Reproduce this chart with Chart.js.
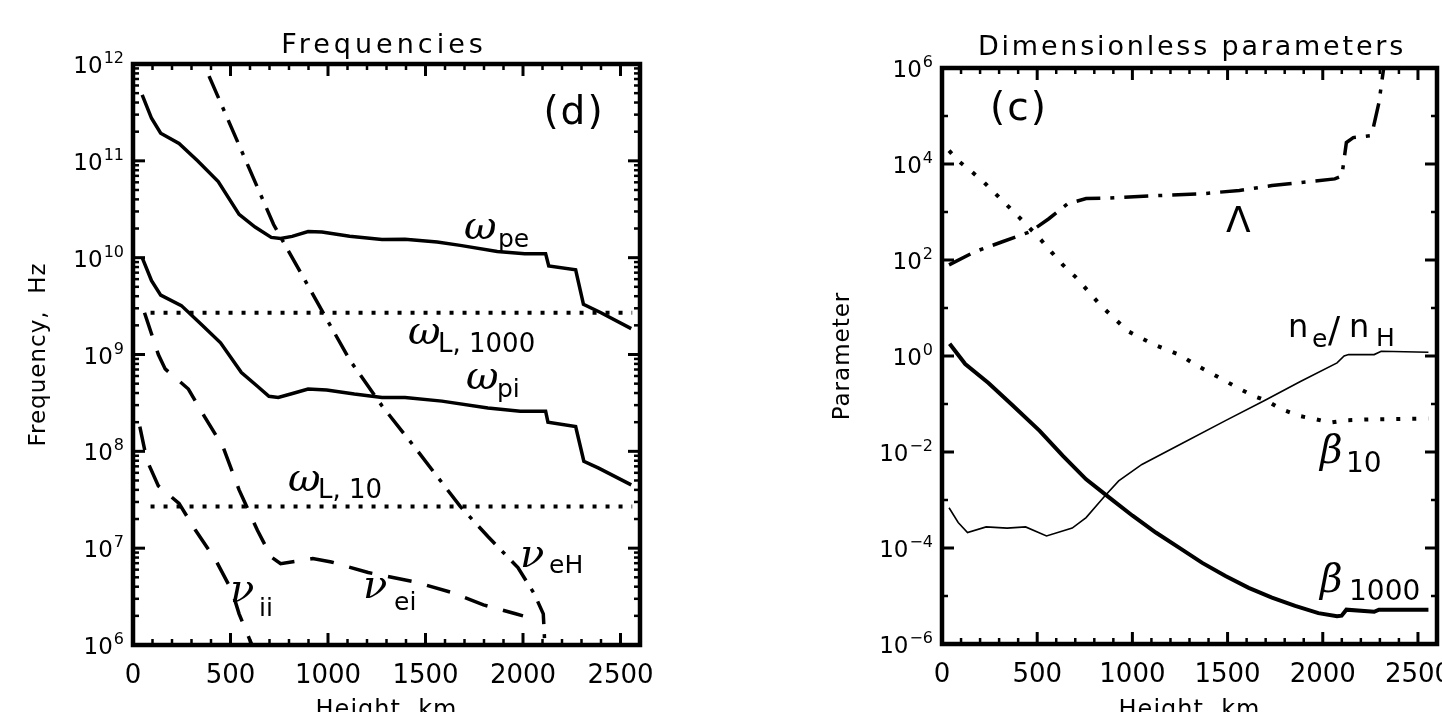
<!DOCTYPE html>
<html>
<head>
<meta charset="utf-8">
<script src="https://cdn.jsdelivr.net/npm/chart.js@4/dist/chart.umd.min.js"></script>
<style>
  body { margin: 0; background: #fff; }
  canvas { position: absolute; top: 0; }
</style>
</head>
<body>
<canvas id="freq" width="721" height="712" style="left:0"></canvas>
<canvas id="params" width="721" height="712" style="left:721px"></canvas>
<script>
// ---- values (height in km) ----
const xTickValues = [0, 500, 1000, 1500, 2000, 2500];
const freqExponents = [6, 7, 8, 9, 10, 11, 12];
const paramExponents = [-6, -4, -2, 0, 2, 4, 6];

// Frequencies panel (Hz)
const hPe = [47, 95, 142, 236, 331, 437, 544, 626, 709, 757, 816, 898, 969, 1111, 1277, 1395, 1560, 1678, 1868, 2009, 2116, 2132, 2270, 2310, 2400, 2555];
const omegaPe = [4.8e11, 2.75e11, 1.93e11, 1.51e11, 1.0e11, 6.1e10, 2.8e10, 2.07e10, 1.62e10, 1.58e10, 1.66e10, 1.86e10, 1.84e10, 1.66e10, 1.54e10, 1.55e10, 1.45e10, 1.34e10, 1.16e10, 1.10e10, 1.10e10, 8.2e9, 7.5e9, 3.3e9, 2.7e9, 1.85e9];
const hPi = [47, 95, 142, 248, 355, 449, 556, 638, 697, 745, 827, 898, 993, 1135, 1277, 1395, 1584, 1820, 1986, 2116, 2128, 2270, 2312, 2388, 2555];
const omegaPi = [1.0e10, 5.8e9, 4.1e9, 3.2e9, 2.0e9, 1.32e9, 6.5e8, 4.7e8, 3.7e8, 3.6e8, 4.0e8, 4.4e8, 4.3e8, 3.9e8, 3.6e8, 3.6e8, 3.3e8, 2.8e8, 2.6e8, 2.6e8, 2.0e8, 1.8e8, 7.9e7, 6.7e7, 4.5e7];
const hL = [90, 2560];
const omegaL1000 = [2.7e9, 2.7e9];
const omegaL10 = [2.7e7, 2.7e7];
const hEH = [390, 721, 1111, 1277, 1442, 1678, 1820, 1974, 2057, 2104, 2112];
const nuEH = [7.5e11, 2.2e10, 8.8e8, 2.95e8, 1.12e8, 2.7e7, 1.32e7, 6.3e6, 3.4e6, 2.1e6, 1.0e6];
const hEI = [59, 130, 165, 284, 366, 461, 544, 638, 709, 757, 922, 1017, 1206, 1442, 1631, 1797, 1962, 2000];
const nuEI = [2.7e9, 1.0e9, 7.1e8, 4.4e8, 2.3e8, 1.12e8, 4.0e7, 1.53e7, 8.1e6, 6.9e6, 7.8e6, 7.2e6, 5.6e6, 4.5e6, 3.5e6, 2.6e6, 2.1e6, 2.0e6];
const hII = [35, 71, 130, 236, 319, 426, 508, 544, 610];
const nuII = [1.8e8, 8.1e7, 4.4e7, 2.9e7, 1.55e7, 7.4e6, 3.6e6, 2.1e6, 1.0e6];

// Dimensionless parameters panel
const hLam = [37, 171, 317, 464, 561, 659, 757, 879, 1123, 1367, 1562, 1733, 2063, 2100, 2124, 2160, 2250, 2265, 2295, 2320];
const lambdaP = [79, 148, 240, 389, 724, 1480, 1905, 1950, 2190, 2400, 2820, 3550, 4900, 5600, 28000, 35500, 39000, 56000, 190000, 1e6];
const hB10 = [37, 85, 159, 220, 281, 342, 403, 513, 574, 635, 708, 769, 830, 903, 976, 1111, 1245, 1343, 1477, 1550, 1636, 1709, 1782, 1880, 1965, 2038, 2124, 2270, 2555];
const beta10 = [19000, 11700, 6760, 4170, 2400, 1380, 794, 282, 148, 79, 42, 22, 11.7, 6.2, 3.3, 1.74, 1.07, 0.62, 0.32, 0.22, 0.148, 0.115, 0.078, 0.056, 0.048, 0.041, 0.046, 0.048, 0.050];
const hB1000 = [40, 122, 244, 366, 513, 635, 757, 879, 1001, 1123, 1245, 1367, 1489, 1611, 1733, 1855, 1977, 2075, 2099, 2124, 2270, 2295, 2555];
const beta1000 = [1.8, 0.68, 0.275, 0.098, 0.0275, 0.0083, 0.0027, 0.00112, 4.7e-4, 2.1e-4, 1.02e-4, 4.9e-5, 2.6e-5, 1.48e-5, 9.3e-6, 6.2e-6, 4.4e-6, 3.8e-6, 3.9e-6, 5.2e-6, 4.7e-6, 5.2e-6, 5.2e-6];
const hNe = [37, 85, 134, 232, 342, 439, 549, 684, 757, 854, 928, 1050, 1245, 1489, 1697, 1880, 2075, 2112, 2136, 2270, 2307, 2555];
const neNh = [6.9e-4, 3.4e-4, 2.1e-4, 2.75e-4, 2.6e-4, 2.75e-4, 1.78e-4, 2.6e-4, 4.3e-4, 1.2e-3, 2.5e-3, 5.5e-3, 0.014, 0.045, 0.12, 0.29, 0.72, 1.0, 1.07, 1.07, 1.26, 1.2];

// ---- line styles ----
const SOLID = { borderWidth: 3.5 };
const THIN = { borderWidth: 1.6 };
const DOTTED = { borderWidth: 4, borderDash: [4, 9] };
const DOTTED_WIDE = { borderWidth: 4, borderDash: [4, 12] };
const DASHED = { borderWidth: 3.5, borderDash: [24, 16] };
const DASHDOT = { borderWidth: 3.5, borderDash: [24, 10, 4, 10] };

function series(xs, ys, style) {
  return Object.assign({
    data: xs.map((x, i) => ({ x: x, y: ys[i] })),
    borderColor: "#000",
    pointRadius: 0,
    fill: false,
    tension: 0,
  }, style);
}

const SANS = '"DejaVu Sans", sans-serif';
const GREEK = 'italic 40px "DejaVu Serif", serif';

function text(ctx, s, x, y, font, align, spacing) {
  ctx.font = font;
  ctx.textAlign = align || "left";
  ctx.textBaseline = "alphabetic";
  ctx.letterSpacing = (spacing || 0) + "px";
  ctx.fillText(s, x, y);
  ctx.letterSpacing = "0px";
}

// frame, inward ticks, tick labels, titles and curve labels
const framePlugin = {
  id: "frame",
  afterDraw(chart, args, opts) {
    const ctx = chart.ctx;
    const a = chart.chartArea;
    const xs = chart.scales.x;
    const ys = chart.scales.y;
    ctx.save();
    ctx.strokeStyle = "#000";
    ctx.fillStyle = "#000";
    ctx.lineCap = "butt";

    function seg(x1, y1, x2, y2, w) {
      ctx.lineWidth = w;
      ctx.beginPath();
      ctx.moveTo(x1, y1);
      ctx.lineTo(x2, y2);
      ctx.stroke();
    }

    // x ticks top and bottom
    for (let v = 100; v < 2600; v += 100) {
      const px = xs.getPixelForValue(v);
      const major = v % 500 === 0;
      const len = major ? 12 : 6;
      const w = major ? 3 : 2.5;
      seg(px, a.bottom, px, a.bottom - len, w);
      seg(px, a.top, px, a.top + len, w);
    }
    // y ticks left and right
    opts.yTicks.forEach(function (t) {
      const py = ys.getPixelForValue(t.v);
      const len = t.major ? 12 : 6;
      const w = t.major ? 3 : 2.5;
      seg(a.left, py, a.left + len, py, w);
      seg(a.right, py, a.right - len, py, w);
    });

    // box
    ctx.lineWidth = 4.5;
    ctx.strokeRect(a.left, a.top, a.right - a.left, a.bottom - a.top);

    // x tick labels
    xTickValues.forEach(function (v) {
      text(ctx, String(v), xs.getPixelForValue(v), a.bottom + 38, "26px " + SANS, "center");
    });
    // y tick labels 10^n
    opts.exponents.forEach(function (e) {
      const py = ys.getPixelForValue(Math.pow(10, e));
      const sup = e < 0 ? "\u2212" + (-e) : String(e);
      ctx.font = "16px " + SANS;
      const sw = ctx.measureText(sup).width;
      const right = a.left - 9;
      text(ctx, sup, right, py - 1, "16px " + SANS, "right");
      text(ctx, "10", right - sw - 1, py + 9, "23px " + SANS, "right");
    });

    // titles
    text(ctx, opts.title, opts.titleX, opts.titleY, "27px " + SANS, "center", opts.titleSpacing);
    text(ctx, "Height, km", (a.left + a.right) / 2, 717, "24px " + SANS, "center", 1);
    ctx.save();
    ctx.translate(opts.yTitleX, (a.top + a.bottom) / 2);
    ctx.rotate(-Math.PI / 2);
    text(ctx, opts.yTitle, 0, 0, "23px " + SANS, "center", 1);
    ctx.restore();

    // panel tag
    text(ctx, opts.tag[0], opts.tag[1], opts.tag[2], "39px " + SANS, "center", 2);

    // curve labels
    opts.labels.forEach(function (l) {
      text(ctx, l.main, l.x, l.y, l.font || GREEK, "left");
      if (l.sub) text(ctx, l.sub, l.sx, l.sy, (l.subSize || 25) + "px " + SANS, "left");
    });
    ctx.restore();
  },
};

function logTicks(lo, hi, minors) {
  const out = [];
  for (let e = lo; e <= hi; e++) {
    out.push({ v: Math.pow(10, e), major: true });
    if (e < hi) minors.forEach(function (m) { out.push({ v: m * Math.pow(10, e), major: false }); });
  }
  return out;
}

function paramTicks() {
  const out = [];
  for (let e = -6; e <= 6; e++) out.push({ v: Math.pow(10, e), major: e % 2 === 0 });
  return out;
}

function baseOptions(yMin, yMax, padding, frame) {
  return {
    responsive: false,
    animation: false,
    events: [],
    layout: { padding: padding },
    scales: {
      x: { type: "linear", min: 0, max: 2600, display: false },
      y: { type: "logarithmic", min: yMin, max: yMax, display: false },
    },
    plugins: {
      legend: { display: false },
      tooltip: { enabled: false },
      frame: frame,
    },
  };
}

new Chart(document.getElementById("freq").getContext("2d"), {
  type: "line",
  data: {
    datasets: [
      series(hPe, omegaPe, SOLID),
      series(hPi, omegaPi, SOLID),
      series(hL, omegaL1000, DOTTED),
      series(hL, omegaL10, DOTTED),
      series(hEH, nuEH, DASHDOT),
      series(hEI, nuEI, DASHED),
      series(hII, nuII, DASHED),
    ],
  },
  options: baseOptions(1e6, 1e12, { left: 133, right: 81, top: 64, bottom: 67 }, {
    yTicks: logTicks(6, 12, [2, 3, 4, 5, 6, 7, 8, 9]),
    exponents: freqExponents,
    title: "Frequencies",
    titleX: 384,
    titleY: 53,
    titleSpacing: 4,
    yTitle: "Frequency,  Hz",
    yTitleX: 45,
    tag: ["(d)", 574, 124],
    labels: [
      { main: "\u03c9", x: 464, y: 239, sub: "pe", sx: 498, sy: 247 },
      { main: "\u03c9", x: 408, y: 344, sub: "L, 1000", sx: 438, sy: 352, subSize: 26 },
      { main: "\u03c9", x: 466, y: 389, sub: "pi", sx: 497, sy: 397 },
      { main: "\u03c9", x: 288, y: 491, sub: "L, 10", sx: 318, sy: 498, subSize: 26 },
      { main: "\u03bd", x: 520, y: 567, sub: "eH", sx: 549, sy: 573 },
      { main: "\u03bd", x: 230, y: 602, sub: "ii", sx: 259, sy: 616 },
      { main: "\u03bd", x: 363, y: 598, sub: "ei", sx: 394, sy: 610 },
    ],
  }),
  plugins: [framePlugin],
});

new Chart(document.getElementById("params").getContext("2d"), {
  type: "line",
  data: {
    datasets: [
      series(hLam, lambdaP, DASHDOT),
      series(hB10, beta10, DOTTED_WIDE),
      series(hB1000, beta1000, { borderWidth: 4 }),
      series(hNe, neNh, THIN),
    ],
  },
  options: baseOptions(1e-6, 1e6, { left: 221, right: 5, top: 68, bottom: 68 }, {
    yTicks: paramTicks(),
    exponents: paramExponents,
    title: "Dimensionless parameters",
    titleX: 471,
    titleY: 55,
    titleSpacing: 2.8,
    yTitle: "Parameter",
    yTitleX: 128,
    tag: ["(c)", 298, 120],
    labels: [
      { main: "\u039b", x: 505, y: 232, font: "36px " + SANS },
      { main: "n", x: 567, y: 337, font: "32px " + SANS, sub: "e", sx: 591, sy: 347, subSize: 25 },
      { main: "/", x: 607, y: 342, font: "36px " + SANS },
      { main: "n", x: 628, y: 337, font: "32px " + SANS, sub: "H", sx: 655, sy: 346, subSize: 25 },
      { main: "\u03b2", x: 599, y: 463, font: 'italic 39px "DejaVu Serif", serif', sub: "10", sx: 625, sy: 472, subSize: 28 },
      { main: "\u03b2", x: 599, y: 592, font: 'italic 39px "DejaVu Serif", serif', sub: "1000", sx: 628, sy: 600, subSize: 28 },
    ],
  }),
  plugins: [framePlugin],
});
</script>
</body>
</html>
